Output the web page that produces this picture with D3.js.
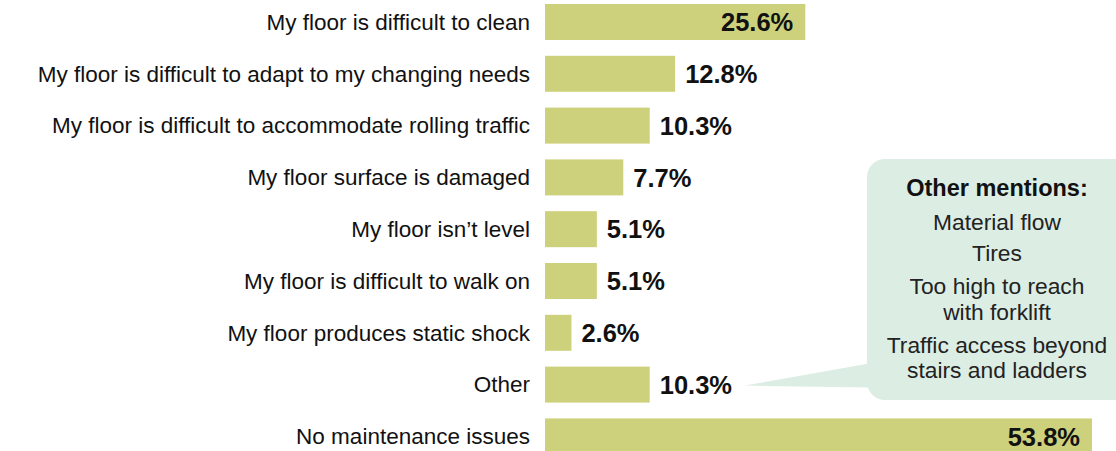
<!DOCTYPE html>
<html><head><meta charset="utf-8">
<script src="https://cdn.jsdelivr.net/npm/d3@7"></script>
<style>
html,body{margin:0;padding:0;background:#fff;}
svg{display:block;font-family:"Liberation Sans",Arial,Helvetica,sans-serif;}
</style></head>
<body><svg id="c" width="1116" height="451"></svg>
<script>
const categories = [
  "My floor is difficult to clean",
  "My floor is difficult to adapt to my changing needs",
  "My floor is difficult to accommodate rolling traffic",
  "My floor surface is damaged",
  "My floor isn\u2019t level",
  "My floor is difficult to walk on",
  "My floor produces static shock",
  "Other",
  "No maintenance issues"
];
const values = [25.6, 12.8, 10.3, 7.7, 5.1, 5.1, 2.6, 10.3, 53.8];
const insideLabel = [true, false, false, false, false, false, false, false, true];
const calloutTitle = "Other mentions:";
const calloutLines = [["Material flow"], ["Tires"], ["Too high to reach", "with forklift"], ["Traffic access beyond", "stairs and ladders"]];

const svg = d3.select("#c");
const x0 = 545;
const x = d3.scaleLinear().domain([0, 53.8]).range([x0, 1092]);
const step = 51.8, pi = 0.305;
const y = d3.scaleBand().domain(categories)
  .range([4 - step * pi / 2, 4 - step * pi / 2 + 9 * step])
  .paddingInner(pi).paddingOuter(pi / 2);

// Callout
const cg = svg.append("g");
const bx = 867, by = 159, bw = 270, bh = 241;
cg.append("rect").attr("x", bx).attr("y", by).attr("width", bw).attr("height", bh)
  .attr("rx", 18).attr("fill", "#dcede4");
const oy = y("Other") + y.bandwidth() / 2;
cg.append("path").attr("d", `M${x(10.3) + 95},${oy + 1} L${bx + 2},${oy - 21} L${bx + 2},${oy + 3} Z`)
  .attr("fill", "#dcede4");
const cx = 997;
cg.append("text").attr("x", cx).attr("y", 196).attr("text-anchor", "middle")
  .attr("font-weight", "bold").attr("font-size", 23.5).attr("fill", "#111").text(calloutTitle);
const lineYs = [[230], [261], [294, 320], [353, 378]];
calloutLines.forEach((ls, i) => ls.forEach((t, j) => {
  cg.append("text").attr("x", cx).attr("y", lineYs[i][j]).attr("text-anchor", "middle")
    .attr("font-size", 22.8).attr("fill", "#222").text(t);
}));

// Bars
svg.selectAll("rect.bar").data(values).join("rect").attr("class", "bar")
  .attr("x", x0).attr("y", (d, i) => y(categories[i]))
  .attr("width", d => x(d) - x0).attr("height", y.bandwidth())
  .attr("fill", "#cdd17c");

// Category labels
svg.selectAll("text.cat").data(categories).join("text").attr("class", "cat")
  .attr("x", x0 - 15).attr("y", d => y(d) + y.bandwidth() / 2)
  .attr("dy", "0.35em").attr("text-anchor", "end")
  .attr("font-size", 22.5).attr("fill", "#111").text(d => d);

// Value labels
svg.selectAll("text.val").data(values).join("text").attr("class", "val")
  .attr("x", (d, i) => insideLabel[i] ? x(d) - 12 : x(d) + 10)
  .attr("y", (d, i) => y(categories[i]) + y.bandwidth() / 2)
  .attr("dy", "0.36em")
  .attr("text-anchor", (d, i) => insideLabel[i] ? "end" : "start")
  .attr("font-weight", "bold").attr("font-size", 25.5).attr("fill", "#111")
  .text(d => d.toFixed(1) + "%");
</script></body></html>
